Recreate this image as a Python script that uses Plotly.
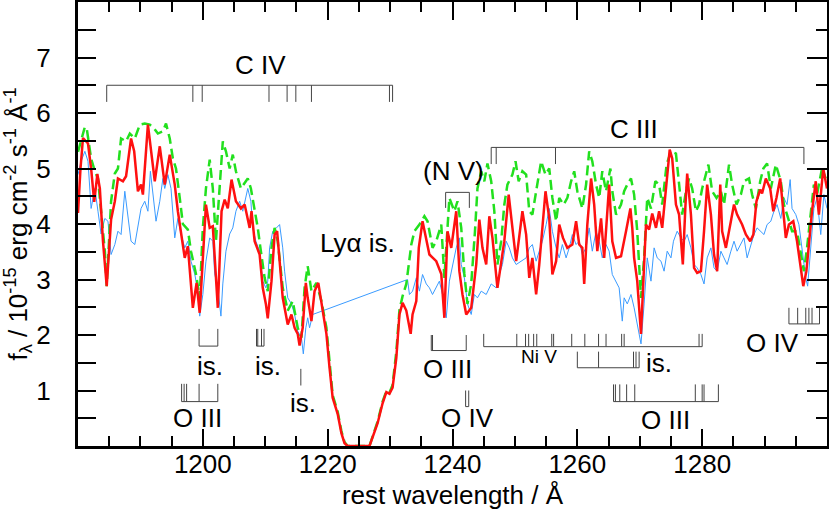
import plotly.graph_objects as go

# ---------------- data ----------------
red_wl = [1180.0, 1180.4, 1180.8, 1181.6, 1182.1, 1182.6, 1183.1, 1183.5, 1184.0, 1184.6, 1185.3, 1185.9, 1186.4, 1187.2, 1187.7, 1188.5, 1189.0, 1189.6, 1190.1, 1190.4, 1191.2, 1192.0, 1192.3, 1193.1, 1193.9, 1194.7, 1195.5, 1196.0, 1196.5, 1197.1, 1197.6, 1198.4, 1199.0, 1199.5, 1200.5, 1201.1, 1201.6, 1202.4, 1203.0, 1203.5, 1204.0, 1204.6, 1205.3, 1206.1, 1206.7, 1207.5, 1207.8, 1208.3, 1209.1, 1209.6, 1210.1, 1210.4, 1211.0, 1211.5, 1211.9, 1212.3, 1212.8, 1213.6, 1214.2, 1214.7, 1215.2, 1215.5, 1216.0, 1216.5, 1216.8, 1217.4, 1217.9, 1218.5, 1219.0, 1219.8, 1220.3, 1220.8, 1221.6, 1222.2, 1222.7, 1223.2, 1226.7, 1227.2, 1228.0, 1228.8, 1229.4, 1229.9, 1230.4, 1231.0, 1231.5, 1232.0, 1232.6, 1233.3, 1233.6, 1234.2, 1234.6, 1235.2, 1235.8, 1236.3, 1237.4, 1238.2, 1238.7, 1239.2, 1239.8, 1240.6, 1241.1, 1241.6, 1242.2, 1243.0, 1243.8, 1244.3, 1244.8, 1245.4, 1245.9, 1246.4, 1247.2, 1247.8, 1248.3, 1249.0, 1249.6, 1250.2, 1251.2, 1251.8, 1252.3, 1252.8, 1253.4, 1253.9, 1254.9, 1255.5, 1256.0, 1256.6, 1257.1, 1257.7, 1258.4, 1259.2, 1259.8, 1260.3, 1260.8, 1261.1, 1261.6, 1262.2, 1262.7, 1263.2, 1263.8, 1264.3, 1265.1, 1265.6, 1266.2, 1267.0, 1267.8, 1268.5, 1268.8, 1269.1, 1269.6, 1270.2, 1270.7, 1271.0, 1271.5, 1272.0, 1272.6, 1273.1, 1273.6, 1274.1, 1274.4, 1274.8, 1275.2, 1275.8, 1276.3, 1276.9, 1277.3, 1277.6, 1278.2, 1278.7, 1279.2, 1279.8, 1280.3, 1280.8, 1281.4, 1281.9, 1282.4, 1282.9, 1283.2, 1283.8, 1284.6, 1285.1, 1285.6, 1286.4, 1287.0, 1287.7, 1288.2, 1288.7, 1289.3, 1289.6, 1290.2, 1290.9, 1291.4, 1291.9, 1292.5, 1292.8, 1293.4, 1293.9, 1294.6, 1295.2, 1295.8, 1296.2, 1296.7, 1297.1, 1297.6, 1298.2, 1298.7, 1299.4, 1300.0]
red_flux = [4.2, 5.0, 5.55, 5.45, 5.0, 4.4, 4.9, 4.64, 3.69, 2.88, 4.08, 4.41, 4.82, 4.77, 4.86, 5.54, 5.31, 4.59, 4.71, 4.53, 5.79, 5.0, 4.77, 5.4, 4.71, 5.25, 4.71, 4.23, 3.82, 3.39, 3.6, 2.49, 2.94, 2.4, 4.35, 3.93, 3.96, 2.49, 4.23, 4.44, 4.28, 4.8, 4.41, 4.28, 4.35, 3.93, 4.23, 3.69, 3.45, 2.85, 2.56, 2.3, 2.97, 3.81, 3.87, 3.27, 2.67, 2.19, 2.37, 2.13, 2.02, 1.81, 2.13, 2.94, 2.67, 2.25, 2.79, 2.94, 2.56, 2.02, 1.41, 0.87, 0.58, 0.23, 0.05, 0.0, 0.0, 0.16, 0.41, 0.77, 0.97, 0.94, 1.05, 1.59, 2.37, 2.58, 2.44, 2.02, 2.37, 2.61, 3.57, 4.05, 3.69, 3.45, 3.33, 3.1, 2.31, 3.87, 3.57, 4.23, 3.15, 2.73, 2.37, 2.49, 3.27, 4.08, 3.57, 3.27, 4.14, 3.75, 2.85, 3.27, 3.69, 4.53, 3.93, 3.33, 4.23, 3.81, 3.03, 3.39, 2.73, 3.27, 4.59, 4.1, 3.09, 3.33, 3.99, 3.75, 3.57, 3.63, 4.05, 3.63, 3.57, 2.92, 3.99, 4.82, 4.35, 3.51, 4.1, 3.39, 4.71, 3.69, 3.39, 3.42, 3.87, 4.28, 3.93, 3.39, 2.97, 2.02, 3.27, 3.99, 3.9, 4.19, 3.93, 4.23, 3.93, 4.47, 4.89, 5.34, 5.18, 4.35, 4.17, 3.27, 4.28, 4.91, 4.17, 3.21, 3.12, 3.15, 3.87, 4.71, 4.17, 3.45, 3.15, 4.71, 3.87, 3.57, 4.05, 4.35, 4.17, 3.99, 3.81, 3.69, 3.81, 4.41, 4.62, 4.55, 4.82, 4.64, 4.23, 4.47, 4.82, 4.41, 3.75, 3.99, 4.05, 3.69, 3.21, 2.88, 3.15, 3.69, 4.23, 4.77, 4.17, 5.0, 4.64]

green_wl = [1180.0, 1180.5, 1181.1, 1181.4, 1182.1, 1182.7, 1183.2, 1183.7, 1184.3, 1184.6, 1185.3, 1185.9, 1186.4, 1186.9, 1187.7, 1188.3, 1189.1, 1189.9, 1190.7, 1191.5, 1192.2, 1192.8, 1193.6, 1194.1, 1194.7, 1195.2, 1195.7, 1196.3, 1196.8, 1197.6, 1198.1, 1198.9, 1199.5, 1200.0, 1200.5, 1201.1, 1201.6, 1202.1, 1202.7, 1203.2, 1203.7, 1204.3, 1204.8, 1205.3, 1206.1, 1207.2, 1207.7, 1208.3, 1208.8, 1209.3, 1209.9, 1210.4, 1211.0, 1211.5, 1212.0, 1212.8, 1213.6, 1214.4, 1215.2, 1215.8, 1216.3, 1216.8, 1217.4, 1218.2, 1219.0, 1219.8, 1220.3, 1220.8, 1221.6, 1222.2, 1222.7, 1223.2, 1226.7, 1227.2, 1228.0, 1228.8, 1229.4, 1229.9, 1230.4, 1231.0, 1231.5, 1232.0, 1232.6, 1233.4, 1233.9, 1234.7, 1235.5, 1236.0, 1236.8, 1237.4, 1238.2, 1238.7, 1239.2, 1239.5, 1240.3, 1240.8, 1241.4, 1241.9, 1242.4, 1243.0, 1243.6, 1244.0, 1244.6, 1245.1, 1245.6, 1246.2, 1246.7, 1247.2, 1247.8, 1248.3, 1248.8, 1249.6, 1250.1, 1250.6, 1251.2, 1251.8, 1252.3, 1252.8, 1253.4, 1254.2, 1254.9, 1255.5, 1256.0, 1256.6, 1257.1, 1257.8, 1258.4, 1259.0, 1259.5, 1260.0, 1260.8, 1261.4, 1261.9, 1262.4, 1263.0, 1263.5, 1264.0, 1264.6, 1265.3, 1265.6, 1266.2, 1267.0, 1267.5, 1268.0, 1268.6, 1269.1, 1269.6, 1270.2, 1270.7, 1271.2, 1271.8, 1272.5, 1273.1, 1273.6, 1274.3, 1275.0, 1275.8, 1276.3, 1276.8, 1277.4, 1277.9, 1278.4, 1279.0, 1279.5, 1280.0, 1281.0, 1281.6, 1282.3, 1283.0, 1283.5, 1284.3, 1284.8, 1285.5, 1286.2, 1286.7, 1287.5, 1288.0, 1288.6, 1289.3, 1289.8, 1290.4, 1291.0, 1291.8, 1292.6, 1293.1, 1293.6, 1294.4, 1295.2, 1295.8, 1296.3, 1296.8, 1297.5, 1297.9, 1298.4, 1299.2, 1299.8]
green_flux = [5.3, 5.5, 5.75, 5.72, 5.18, 4.95, 4.82, 4.23, 3.51, 2.88, 4.41, 4.91, 5.0, 5.54, 5.49, 5.63, 5.54, 5.79, 5.81, 5.79, 5.72, 5.63, 5.67, 5.81, 5.54, 5.18, 5.0, 4.47, 4.0, 3.9, 3.51, 3.1, 2.67, 3.93, 4.64, 5.16, 4.64, 3.69, 4.59, 5.49, 5.31, 5.0, 5.25, 4.95, 4.64, 4.82, 4.64, 4.28, 3.93, 3.51, 3.03, 2.79, 3.57, 3.93, 3.69, 2.85, 2.44, 2.61, 2.13, 1.95, 2.85, 3.24, 2.79, 2.94, 2.61, 2.13, 1.45, 0.92, 0.62, 0.27, 0.07, 0.0, 0.0, 0.18, 0.44, 0.8, 0.99, 0.96, 1.1, 1.7, 2.45, 2.7, 2.92, 3.63, 3.87, 3.99, 4.14, 4.05, 3.57, 3.69, 3.99, 3.03, 4.05, 4.47, 4.23, 4.41, 3.93, 3.1, 2.56, 2.92, 3.87, 4.64, 4.95, 4.77, 5.09, 4.77, 4.23, 3.27, 3.69, 4.35, 4.71, 4.89, 5.13, 4.77, 4.95, 4.89, 4.23, 4.17, 4.59, 5.13, 4.89, 5.0, 4.47, 4.05, 4.47, 4.35, 4.47, 4.77, 4.95, 4.59, 4.28, 4.71, 5.31, 5.13, 4.71, 4.47, 4.95, 4.59, 5.0, 4.59, 4.17, 4.35, 4.59, 4.71, 4.82, 4.53, 3.87, 2.67, 3.39, 4.47, 4.28, 4.77, 4.71, 4.35, 5.07, 5.31, 5.27, 4.77, 4.17, 4.59, 4.82, 4.64, 4.23, 4.35, 4.64, 5.07, 4.59, 4.47, 4.59, 4.35, 5.07, 4.71, 4.35, 4.53, 4.77, 4.82, 4.53, 4.28, 4.77, 5.0, 5.09, 4.64, 5.07, 4.77, 4.35, 4.17, 3.87, 3.87, 3.51, 3.15, 3.57, 4.28, 4.71, 4.53, 5.0, 4.82]

blue_wl = [1180.0, 1180.5, 1181.1, 1181.6, 1182.1, 1182.7, 1183.2, 1183.7, 1184.3, 1184.8, 1185.3, 1185.9, 1186.4, 1186.9, 1187.5, 1188.0, 1188.5, 1189.1, 1189.6, 1190.1, 1190.7, 1191.2, 1191.6, 1192.0, 1192.5, 1193.1, 1193.6, 1193.9, 1194.4, 1194.9, 1195.5, 1196.0, 1196.5, 1197.1, 1197.6, 1198.1, 1198.7, 1199.2, 1199.5, 1200.0, 1200.5, 1201.1, 1201.6, 1201.9, 1202.4, 1202.9, 1203.2, 1203.7, 1204.3, 1204.8, 1205.3, 1205.9, 1206.4, 1207.2, 1207.7, 1208.0, 1208.5, 1209.1, 1209.6, 1210.1, 1210.4, 1210.7, 1211.2, 1211.8, 1212.3, 1212.8, 1213.1, 1213.6, 1214.2, 1214.7, 1215.2, 1215.8, 1216.1, 1216.5, 1216.8, 1217.1, 1217.6, 1232.8, 1233.1, 1233.6, 1234.2, 1234.7, 1235.2, 1235.8, 1236.3, 1236.8, 1237.4, 1237.9, 1238.4, 1239.0, 1239.5, 1240.0, 1240.6, 1241.1, 1241.4, 1241.9, 1242.4, 1243.0, 1243.5, 1244.0, 1244.6, 1245.4, 1246.2, 1247.0, 1247.5, 1248.0, 1248.6, 1249.1, 1249.6, 1250.2, 1251.0, 1251.8, 1252.3, 1252.8, 1253.4, 1253.9, 1254.4, 1255.0, 1255.5, 1256.0, 1256.6, 1257.1, 1257.6, 1258.2, 1258.7, 1259.2, 1259.8, 1260.3, 1260.8, 1261.4, 1261.9, 1262.4, 1263.0, 1263.5, 1264.0, 1264.6, 1265.1, 1265.6, 1266.2, 1266.7, 1267.2, 1267.5, 1268.0, 1268.6, 1269.1, 1269.6, 1270.2, 1270.7, 1271.2, 1271.8, 1272.3, 1272.8, 1273.4, 1273.9, 1274.4, 1275.0, 1275.4, 1276.0, 1276.6, 1277.1, 1277.6, 1278.2, 1278.7, 1279.2, 1279.8, 1280.3, 1280.8, 1281.4, 1281.9, 1282.4, 1283.0, 1283.5, 1284.0, 1284.6, 1285.1, 1285.6, 1286.2, 1286.7, 1287.2, 1287.8, 1288.3, 1288.8, 1289.4, 1289.9, 1290.4, 1291.0, 1291.5, 1292.0, 1292.6, 1293.1, 1293.6, 1294.1, 1294.4, 1295.0, 1295.5, 1296.0, 1296.6, 1296.9, 1297.4, 1297.9, 1298.4, 1299.0, 1299.5, 1300.0]
blue_flux = [4.89, 5.13, 5.31, 5.13, 4.28, 4.64, 4.23, 3.82, 4.1, 4.05, 3.45, 3.63, 3.87, 3.81, 4.59, 4.1, 3.69, 3.63, 3.93, 4.28, 4.41, 4.23, 4.95, 4.59, 4.05, 4.41, 4.82, 4.64, 4.89, 4.64, 3.75, 4.1, 3.82, 3.57, 3.69, 3.33, 3.1, 2.79, 2.34, 2.73, 3.33, 3.75, 3.69, 3.1, 2.85, 2.34, 2.92, 3.51, 3.82, 3.93, 4.23, 4.41, 4.23, 4.64, 4.41, 3.93, 3.69, 3.51, 2.97, 2.85, 2.97, 3.57, 3.87, 3.93, 3.99, 3.57, 3.15, 2.67, 2.56, 2.37, 2.07, 1.95, 1.66, 2.13, 2.31, 2.13, 2.37, 3.0, 2.73, 2.79, 3.03, 2.79, 3.09, 2.92, 2.85, 2.73, 2.85, 2.97, 2.73, 2.31, 2.97, 3.27, 3.57, 3.75, 3.27, 3.03, 2.56, 2.37, 2.73, 2.67, 2.79, 2.73, 2.92, 2.85, 3.09, 3.27, 3.69, 3.57, 3.39, 3.27, 3.33, 3.39, 3.57, 3.63, 3.33, 3.51, 3.69, 3.99, 4.28, 3.87, 3.57, 3.39, 3.63, 3.39, 3.57, 3.81, 3.63, 3.69, 3.45, 3.57, 3.93, 3.51, 3.87, 3.69, 3.39, 3.63, 3.51, 3.09, 2.97, 2.85, 2.25, 2.67, 2.56, 2.73, 2.49, 2.2, 1.84, 2.56, 3.39, 2.97, 3.57, 3.39, 3.33, 3.15, 3.51, 3.39, 3.69, 3.87, 3.75, 3.69, 3.81, 3.57, 3.27, 3.21, 3.09, 2.92, 3.39, 3.57, 3.21, 3.15, 3.51, 3.39, 3.27, 3.51, 3.69, 3.51, 3.63, 3.75, 3.39, 3.63, 3.81, 3.93, 3.87, 3.81, 3.99, 4.05, 4.23, 4.35, 4.1, 4.47, 4.35, 4.8, 4.28, 4.17, 3.99, 3.51, 3.03, 2.88, 3.57, 4.28, 4.47, 3.81, 4.53, 4.28]

x_tick_values = [1200, 1220, 1240, 1260, 1280]
y_tick_values = [1, 2, 3, 4, 5, 6, 7]

# line identifications (wavelengths in Angstrom)
civ_lines = [1184.6, 1198.4, 1199.9, 1210.6, 1213.5, 1214.9, 1217.4, 1229.9, 1230.4]
ciii_lines = [1246.2, 1247.0, 1256.5, 1296.3]
nv_lines = [1238.9, 1242.7]
is_a_lines = [1199.4, 1202.4]
is_b_lines = [1208.6, 1208.8, 1209.4, 1209.8]
is_c_lines = [1215.7]
oiii_a_lines = [1196.6, 1197.0, 1197.4, 1199.4, 1202.4]
oiii_b_lines = [1236.6, 1236.8, 1242.2]
oiv_a_lines = [1242.1, 1242.6]
niv_lines = [1245.0, 1250.3, 1251.7, 1252.2, 1253.0, 1253.5, 1255.9, 1256.2, 1259.1, 1261.2, 1263.4, 1264.6, 1267.1, 1267.5, 1279.5, 1280.0]
is_d_lines = [1260.0, 1263.4, 1269.0, 1269.4, 1269.9]
oiii_c_lines = [1265.8, 1266.1, 1266.8, 1267.9, 1269.2, 1278.9, 1280.0, 1280.3, 1282.6]
oiv_b_lines = [1293.9, 1295.3, 1296.6, 1297.1, 1297.6, 1298.8]

# ---------------- figure ----------------
FONT = "Liberation Sans, Arial, sans-serif"
FS = 26
fig = go.Figure()
fig.add_trace(go.Scatter(x=blue_wl, y=blue_flux, mode="lines",
                         line=dict(color="#3a9bff", width=1), showlegend=False, hoverinfo="skip"))
fig.add_trace(go.Scatter(x=green_wl, y=green_flux, mode="lines",
                         line=dict(color="#22e01e", width=2.5, dash="10px,5px"), showlegend=False, hoverinfo="skip"))
fig.add_trace(go.Scatter(x=red_wl, y=red_flux, mode="lines",
                         line=dict(color="#ff1010", width=2.5), showlegend=False, hoverinfo="skip"))
# invisible copy on the mirror axes so the top / right frame axes are drawn
fig.add_trace(go.Scatter(x=red_wl, y=red_flux, mode="lines", xaxis="x2", yaxis="y2",
                         line=dict(color="rgba(0,0,0,0)", width=0), showlegend=False, hoverinfo="skip"))

shapes = []
LC = "#444444"


def bracket(lines, y_tick_end, y_bar, bar=True):
    for w in lines:
        shapes.append(dict(type="line", xref="x", yref="y", x0=w, x1=w, y0=y_tick_end, y1=y_bar,
                           line=dict(color=LC, width=1)))
    if bar and len(lines) > 1:
        shapes.append(dict(type="line", xref="x", yref="y", x0=min(lines), x1=max(lines),
                           y0=y_bar, y1=y_bar, line=dict(color=LC, width=1)))


bracket(civ_lines, 6.2, 6.5)
bracket(ciii_lines, 5.08, 5.38)
bracket(nv_lines, 4.29, 4.57)
bracket(is_a_lines, 2.11, 1.8)
bracket(is_b_lines, 2.11, 1.8)
bracket(is_c_lines, 1.39, 1.09, bar=False)
bracket(oiii_a_lines, 1.12, 0.8)
bracket(oiii_b_lines, 2.0, 1.72)
bracket(oiv_a_lines, 1.0, 0.71)
bracket(niv_lines, 2.02, 1.79)
bracket(is_d_lines, 1.7, 1.41)
bracket(oiii_c_lines, 1.11, 0.8)
bracket(oiv_b_lines, 2.49, 2.2)

labels = [
    ("C IV", 1209.2, 6.87, FS), ("C III", 1269.0, 5.72, FS), ("(N V)", 1240.2, 4.95, FS),
    ("Lyα is.", 1224.8, 3.65, FS), ("is.", 1201.1, 1.45, FS), ("is.", 1210.4, 1.45, FS),
    ("is.", 1216.0, 0.77, FS), ("O III", 1199.2, 0.5, FS), ("O III", 1239.2, 1.39, FS),
    ("O IV", 1242.4, 0.5, FS), ("Ni V", 1253.9, 1.61, 19), ("is.", 1273.1, 1.5, FS),
    ("O III", 1274.2, 0.46, FS), ("O IV", 1291.2, 1.86, FS),
]
annotations = [dict(text=t, x=x, y=y, xref="x", yref="y", showarrow=False,
                    font=dict(family=FONT, size=s, color="black"), xanchor="center", yanchor="middle")
               for t, x, y, s in labels]

axis_common = dict(showline=True, linecolor="black", linewidth=3, ticks="inside",
                   tickcolor="black", tickwidth=2, showgrid=False, zeroline=False, automargin=False)

fig.update_layout(
    width=829, height=518,
    margin=dict(l=78, r=2, t=2, b=72),
    paper_bgcolor="white", plot_bgcolor="white",
    font=dict(family=FONT, size=FS, color="black"),
    shapes=shapes, annotations=annotations,
    xaxis=dict(range=[1180, 1300], tickvals=x_tick_values, ticklen=17, ticklabelstandoff=-7,
               minor=dict(dtick=5, tick0=1180, ticks="inside", ticklen=10, tickwidth=2, tickcolor="black"),
               title=dict(text="rest wavelength / Å", standoff=8, font=dict(size=FS)),
               tickfont=dict(size=FS), **axis_common),
    xaxis2=dict(range=[1180, 1300], overlaying="x", side="top", anchor="y", tickvals=x_tick_values,
                ticklen=18, showticklabels=False,
                minor=dict(dtick=5, tick0=1180, ticks="inside", ticklen=10, tickwidth=2, tickcolor="black"),
                **axis_common),
    yaxis=dict(range=[0, 8], tickvals=y_tick_values, ticklen=18, ticklabelstandoff=19,
               minor=dict(dtick=0.5, tick0=0, ticks="inside", ticklen=18, tickwidth=2, tickcolor="black"),
               title=dict(text="f<sub>λ</sub> / 10<sup>-15</sup> erg cm<sup>-2</sup> s<sup>-1</sup> Å<sup>-1</sup>",
                          standoff=2, font=dict(size=FS)),
               tickfont=dict(size=FS), **axis_common),
    yaxis2=dict(range=[0, 8], overlaying="y", side="right", anchor="x", tickvals=y_tick_values,
                ticklen=20, showticklabels=False,
                minor=dict(dtick=0.5, tick0=0, ticks="inside", ticklen=11, tickwidth=2, tickcolor="black"),
                **axis_common),
)

fig.write_html("out.html", config={"displayModeBar": False},
               post_script="document.body.style.margin='0px';document.body.style.padding='0px';"
                           "document.documentElement.style.overflow='hidden';")
